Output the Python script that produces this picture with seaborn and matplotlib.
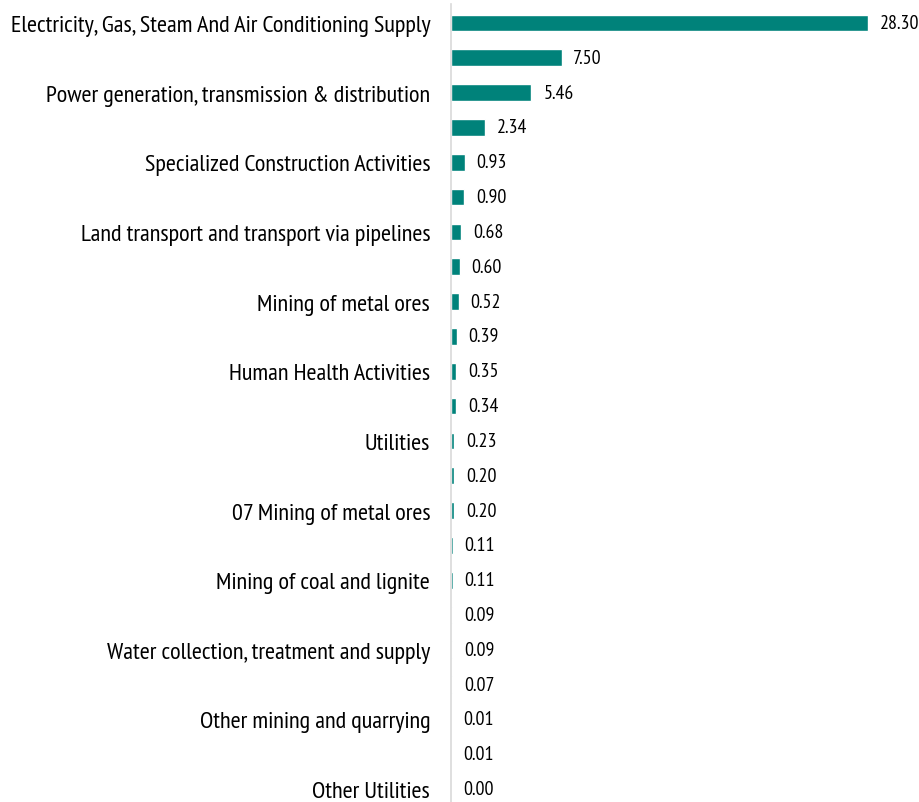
import matplotlib
matplotlib.use("Agg")
import matplotlib.pyplot as plt
import seaborn as sns
import pandas as pd

# Sector labels (only every other row carries a visible label)
labels = [
    "Electricity, Gas, Steam And Air Conditioning Supply", "",
    "Power generation, transmission & distribution", "",
    "Specialized Construction Activities", "",
    "Land transport and transport via pipelines", "",
    "Mining of metal ores", "",
    "Human Health Activities", "",
    "Utilities", "",
    "07 Mining of metal ores", "",
    "Mining of coal and lignite", "",
    "Water collection, treatment and supply", "",
    "Other mining and quarrying", "",
    "Other Utilities",
]
values = [28.30, 7.50, 5.46, 2.34, 0.93, 0.90, 0.68, 0.60, 0.52, 0.39, 0.35,
          0.34, 0.23, 0.20, 0.20, 0.11, 0.11, 0.09, 0.09, 0.07, 0.01, 0.01, 0.00]

df = pd.DataFrame({"row": [str(i) for i in range(len(values))], "value": values})

sns.set_theme(style="white")
plt.rcParams["font.family"] = ["PT Sans Narrow", "DejaVu Sans"]

fig = plt.figure(figsize=(9.19, 8.03), dpi=100)
ax = fig.add_axes([451 / 919, 0.0, 468 / 919, 1.0])

bar_color = "#00827A"
sns.barplot(data=df, x="value", y="row", orient="h", color=bar_color,
            width=0.48, saturation=1, ax=ax)

# size the category font so the longest label spans the left margin
renderer = fig.canvas.get_renderer()
probe = fig.text(0, 0, max(labels, key=len), fontsize=16)
w16 = probe.get_window_extent(renderer).width
probe.remove()
label_size = 16 * 422 / w16
value_size = label_size * 0.82

ax.set_xlim(0, 31.75)
ax.set_ylim(22.37, -0.69)
ax.set_xlabel("")
ax.set_ylabel("")
ax.set_xticks([])
ax.set_yticks(range(len(labels)))
ax.set_yticklabels(labels, fontsize=label_size, color="#000000")
ax.tick_params(axis="y", length=0, pad=15)

for s in ["top", "right", "bottom"]:
    ax.spines[s].set_visible(False)
ax.spines["left"].set_color("#d9d9d9")
ax.spines["left"].set_linewidth(1.2)
ax.spines["left"].set_bounds(22.6, -0.55)

for i, v in enumerate(values):
    ax.annotate(f"{v:.2f}", xy=(v, i), xytext=(8.5, 0), textcoords="offset points",
                va="center", ha="left", fontsize=value_size, color="#000000")

fig.savefig("out.png", dpi=100)
